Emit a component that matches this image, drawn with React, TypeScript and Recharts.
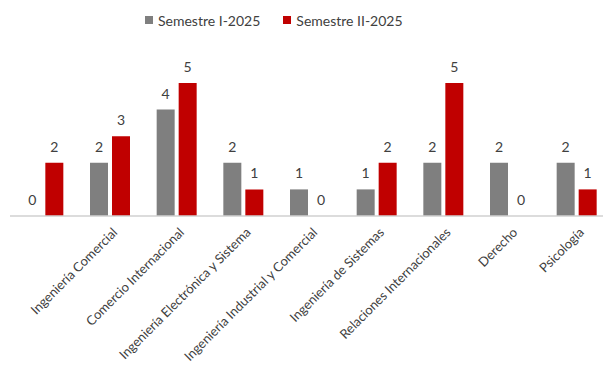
import React from 'react';
import { BarChart, Bar, XAxis, YAxis, Legend, LabelList } from 'recharts';

const CATEGORIES = [
  '',
  'Ingeniería Comercial',
  'Comercio Internacional',
  'Ingeniería Electrónica y Sistema',
  'Ingeniería Industrial y Comercial',
  'Ingeniería de Sistemas',
  'Relaciones Internacionales',
  'Derecho',
  'Psicología',
];
const SEM_1 = [0, 2, 4, 2, 1, 1, 2, 2, 2];
const SEM_2 = [2, 3, 5, 1, 0, 2, 5, 0, 1];

const SERIES = [
  { key: 'sem1', name: 'Semestre I-2025', color: '#7F7F7F' },
  { key: 'sem2', name: 'Semestre II-2025', color: '#C00000' },
];

const FONT = 'Lato, "Open Sans", sans-serif';

const data = CATEGORIES.map((c, i) => ({ name: c, sem1: SEM_1[i], sem2: SEM_2[i] }));

const RotatedTick = ({ x, y, payload }: any) => (
  <g transform={`translate(${x + 5},${y + 6})`}>
    <text transform="rotate(-45)" textAnchor="end" dy="0.35em" fontSize={13} fill="#404040" fontFamily={FONT}>
      {payload.value}
    </text>
  </g>
);

const TopLegend = () => (
  <div style={{ display: 'flex', paddingLeft: 145, gap: 23, height: 24, alignItems: 'center', fontFamily: FONT, fontSize: 14, color: '#404040' }}>
    {SERIES.map((s) => (
      <div key={s.key} style={{ display: 'flex', alignItems: 'center', gap: 5 }}>
        <span style={{ width: 8, height: 8, background: s.color, display: 'inline-block' }} />
        {s.name}
      </div>
    ))}
  </div>
);

export default function App() {
  return (
    <div style={{ position: 'fixed', left: 0, top: 0, width: 603, height: 370, overflow: 'hidden', background: '#fff' }}>
      <BarChart
        width={620}
        height={370}
        data={data}
        margin={{ top: 59, right: 10, bottom: 0, left: 10 }}
        barCategoryGap="20%"
        barGap={4}
      >
        <Legend verticalAlign="top" content={<TopLegend />} wrapperStyle={{ top: 8, left: 0, width: 603 }} />
        <XAxis
          dataKey="name"
          interval={0}
          height={154}
          tickLine={false}
          axisLine={{ stroke: '#D0D0D0', strokeWidth: 1.5 }}
          tick={<RotatedTick />}
        />
        <YAxis hide domain={[0, 5]} />
        {SERIES.map((s) => (
          <Bar key={s.key} dataKey={s.key} name={s.name} fill={s.color} minPointSize={0.01} isAnimationActive={false}>
            <LabelList dataKey={s.key} position="top" offset={11} fill="#404040" fontSize={14} fontFamily={FONT} />
          </Bar>
        ))}
      </BarChart>
    </div>
  );
}
